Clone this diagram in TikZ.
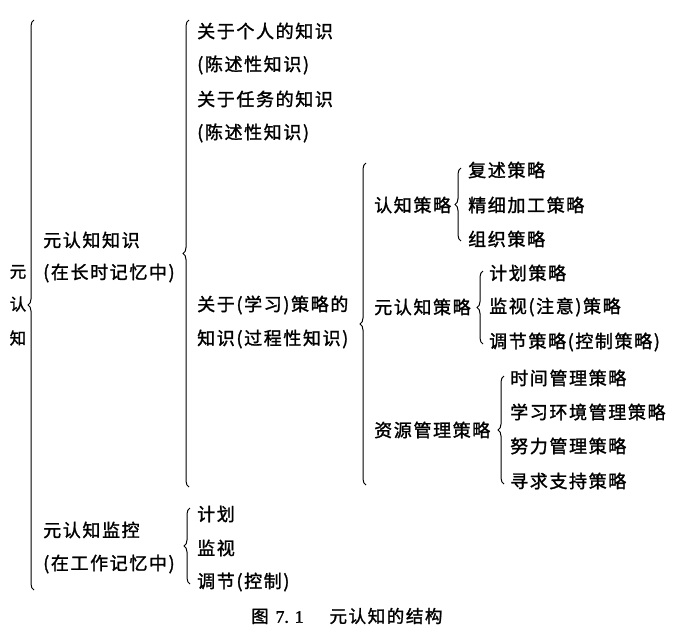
\documentclass[tikz,border=0pt]{standalone}
\usepackage{fontspec}
\setmainfont{Noto Sans CJK SC}[LetterSpace=9,FakeBold=1.5]
\newfontfamily\latinfont{Liberation Serif}[FakeBold=1.5]
\usetikzlibrary{decorations.pathreplacing}
\tikzset{
  txt/.style={anchor=west, inner sep=0pt, font=\fontsize{18}{20}\selectfont},
  vtxt/.style={anchor=center, inner sep=0pt, font=\fontsize{16.5}{18}\selectfont},
  brc/.style={decorate, decoration={brace, amplitude=6pt}, line width=1pt},
}
\begin{document}
\begin{tikzpicture}[x=1pt,y=-1pt]
\useasboundingbox[fill=white] (0,0) rectangle (700,633);
% root
\node[vtxt] (yuan) at (18,272) {元};
\node[vtxt] (ren)  at (18,304) {认};
\node[vtxt] (zhi)  at (18,338) {知};
% level 1
\node[txt] (k1)  at (43,240) {元认知知识};
\node[txt] (k1b) at (43,273) {(在长时记忆中)};
\node[txt] (m1)  at (43,530) {元认知监控};
\node[txt] (m1b) at (43,564) {(在工作记忆中)};
% level 2
\node[txt] (a1) at (197,31)  {关于个人的知识};
\node[txt] (a2) at (197,65)  {(陈述性知识)};
\node[txt] (a3) at (197,99)  {关于任务的知识};
\node[txt] (a4) at (197,133) {(陈述性知识)};
\node[txt] (a5) at (197,305) {关于(学习)策略的};
\node[txt] (a6) at (197,339) {知识(过程性知识)};
\node[txt] (f1) at (197,514) {计划};
\node[txt] (f2) at (197,548) {监视};
\node[txt] (f3) at (197,582) {调节(控制)};
% level 3
\node[txt] (s1) at (374,205) {认知策略};
\node[txt] (s2) at (374,307) {元认知策略};
\node[txt] (s3) at (374,430) {资源管理策略};
% level 4
\node[txt] (c1) at (468,170) {复述策略};
\node[txt] (c2) at (468,205) {精细加工策略};
\node[txt] (c3) at (468,239) {组织策略};
\node[txt] (d1) at (489,273) {计划策略};
\node[txt] (d2) at (489,307) {监视(注意)策略};
\node[txt] (d3) at (489,342) {调节策略(控制策略)};
\node[txt] (e1) at (510,378) {时间管理策略};
\node[txt] (e2) at (510,412) {学习环境管理策略};
\node[txt] (e3) at (510,446) {努力管理策略};
\node[txt] (e4) at (510,481) {寻求支持策略};
% caption
\node[txt, font=\fontsize{17.5}{19}\selectfont] (cap) at (251,616) {图\hspace{7pt}{\latinfont 7.\hspace{6pt}1}\hspace{26pt}元认知的结构};
% brace end points
\coordinate (b1t) at (34,20);  \coordinate (b1b) at (34,590);
\coordinate (b2t) at (189,20); \coordinate (b2b) at (189,487);
\coordinate (b3t) at (366,163);\coordinate (b3b) at (366,485);
\coordinate (b4t) at (461,168);\coordinate (b4b) at (461,241);
\coordinate (b5t) at (483,271);\coordinate (b5b) at (483,344);
\coordinate (b6t) at (504,376);\coordinate (b6b) at (504,484);
\coordinate (b7t) at (190,508);\coordinate (b7b) at (190,584);
\draw[brc] (b1b) -- (b1t);
\draw[brc] (b2b) -- (b2t);
\draw[brc] (b3b) -- (b3t);
\draw[brc] (b4b) -- (b4t);
\draw[brc] (b5b) -- (b5t);
\draw[brc] (b6b) -- (b6t);
\draw[brc] (b7b) -- (b7t);
\end{tikzpicture}
\end{document}
